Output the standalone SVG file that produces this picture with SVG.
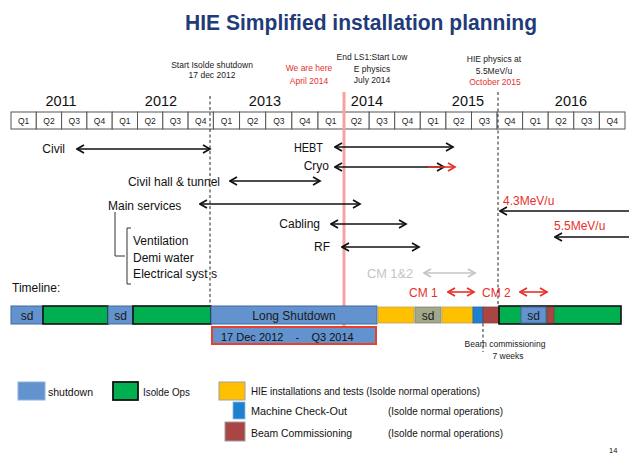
<svg xmlns="http://www.w3.org/2000/svg" width="629" height="454" viewBox="0 0 629 454">
<style>
text{font-family:"Liberation Sans",Arial,sans-serif;fill:#111}
.q{font-size:8.5px;text-anchor:middle;fill:#222}
.yr{font-size:14.5px;text-anchor:middle}
.hd{font-size:8.5px;text-anchor:middle;fill:#222}
.red{fill:#e8302a}
.lb{font-size:12px}
.end{text-anchor:end}
.cell{fill:#fff;stroke:#555;stroke-width:1}
.arr{stroke:#111;stroke-width:1.6;fill:none;marker-start:url(#ak);marker-end:url(#ak)}
.dash{stroke:#222;stroke-width:1;stroke-dasharray:3,2.5;fill:none}
.sd{fill:#6393cf;stroke:#45679a;stroke-width:1}
.ops{fill:#00b050;stroke:#111;stroke-width:1.6}
.hie{fill:#ffc000;stroke:#bfa060;stroke-width:0.8}
.sdg{fill:#a3a78c;stroke:#7f8570;stroke-width:0.8}
.mco{fill:#1f80d0;stroke:#1a66a8;stroke-width:0.8}
.bc{fill:#aa4545;stroke:#8a3a3a;stroke-width:0.8}
.bt{font-size:12px;text-anchor:middle;fill:#1a1a1a}
.lg{font-size:11.5px}
</style>
<defs>
<marker id="ak" viewBox="0 0 10 10" refX="8.5" refY="5" markerWidth="10" markerHeight="10" markerUnits="userSpaceOnUse" orient="auto-start-reverse"><path d="M1.5,1 L8.5,5 L1.5,9" fill="none" stroke="#111" stroke-width="1.7"/></marker>
<marker id="ar" viewBox="0 0 10 10" refX="8.5" refY="5" markerWidth="10" markerHeight="10" markerUnits="userSpaceOnUse" orient="auto-start-reverse"><path d="M1.5,1 L8.5,5 L1.5,9" fill="none" stroke="#e8302a" stroke-width="1.7"/></marker>
<marker id="ag" viewBox="0 0 10 10" refX="8.5" refY="5" markerWidth="10" markerHeight="10" markerUnits="userSpaceOnUse" orient="auto-start-reverse"><path d="M1.5,1 L8.5,5 L1.5,9" fill="none" stroke="#c4c4c4" stroke-width="1.7"/></marker>
</defs>
<rect width="629" height="454" fill="#fff"/>

<g id="title"><text x="185" y="29.5" font-size="21.5" font-weight="bold" style="fill:#1f3c78" textLength="352" lengthAdjust="spacingAndGlyphs">HIE Simplified installation planning</text></g>

<g id="header-labels">
<text class="hd" x="212" y="68">Start Isolde shutdown</text>
<text class="hd" x="212" y="78">17 dec 2012</text>
<text class="hd red" x="309" y="71" font-size="9.5">We are here</text>
<text class="hd red" x="309" y="84" font-size="9.5">April 2014</text>
<text class="hd" x="372" y="60">End LS1:Start Low</text>
<text class="hd" x="372" y="72">E physics</text>
<text class="hd" x="372" y="83">July 2014</text>
<text class="hd" x="494" y="62">HIE physics at</text>
<text class="hd" x="494" y="74">5.5MeV/u</text>
<text class="hd red" x="495" y="85">October 2015</text>
</g>

<g id="years">
<text class="yr" x="61" y="106">2011</text>
<text class="yr" x="161" y="106">2012</text>
<text class="yr" x="265" y="106">2013</text>
<text class="yr" x="367" y="106">2014</text>
<text class="yr" x="468" y="106">2015</text>
<text class="yr" x="571" y="106">2016</text>
</g>

<g id="quarters">
<rect class="cell" x="11" y="112" width="25.3" height="17"/><text class="q" x="23.6" y="124">Q1</text>
<rect class="cell" x="36.3" y="112" width="25.3" height="17"/><text class="q" x="49" y="124">Q2</text>
<rect class="cell" x="61.6" y="112" width="25.3" height="17"/><text class="q" x="74.2" y="124">Q3</text>
<rect class="cell" x="86.9" y="112" width="25.3" height="17"/><text class="q" x="99.5" y="124">Q4</text>
<rect class="cell" x="112.2" y="112" width="25.3" height="17"/><text class="q" x="124.8" y="124">Q1</text>
<rect class="cell" x="137.5" y="112" width="25.3" height="17"/><text class="q" x="150.1" y="124">Q2</text>
<rect class="cell" x="162.8" y="112" width="25.3" height="17"/><text class="q" x="175.4" y="124">Q3</text>
<rect class="cell" x="188.1" y="112" width="25.3" height="17"/><text class="q" x="200.7" y="124">Q4</text>
<rect class="cell" x="213.4" y="112" width="26.15" height="17"/><text class="q" x="226.5" y="124">Q1</text>
<rect class="cell" x="239.55" y="112" width="26.15" height="17"/><text class="q" x="252.6" y="124">Q2</text>
<rect class="cell" x="265.7" y="112" width="26.15" height="17"/><text class="q" x="278.8" y="124">Q3</text>
<rect class="cell" x="291.85" y="112" width="26.15" height="17"/><text class="q" x="304.9" y="124">Q4</text>
<rect class="cell" x="318" y="112" width="25.6" height="17"/><text class="q" x="330.8" y="124">Q1</text>
<rect class="cell" x="343.6" y="112" width="25.6" height="17"/><text class="q" x="356.4" y="124">Q2</text>
<rect class="cell" x="369.2" y="112" width="25.5" height="17"/><text class="q" x="382" y="124">Q3</text>
<rect class="cell" x="394.7" y="112" width="25.6" height="17"/><text class="q" x="407.5" y="124">Q4</text>
<rect class="cell" x="420.3" y="112" width="25.6" height="17"/><text class="q" x="433.1" y="124">Q1</text>
<rect class="cell" x="445.9" y="112" width="25.6" height="17"/><text class="q" x="458.7" y="124">Q2</text>
<rect class="cell" x="471.5" y="112" width="25.6" height="17"/><text class="q" x="484.3" y="124">Q3</text>
<rect class="cell" x="497.1" y="112" width="25.5" height="17"/><text class="q" x="509.9" y="124">Q4</text>
<rect class="cell" x="522.6" y="112" width="25.6" height="17"/><text class="q" x="535.4" y="124">Q1</text>
<rect class="cell" x="548.2" y="112" width="25.6" height="17"/><text class="q" x="561" y="124">Q2</text>
<rect class="cell" x="573.8" y="112" width="25.6" height="17"/><text class="q" x="586.6" y="124">Q3</text>
<rect class="cell" x="599.4" y="112" width="25.6" height="17"/><text class="q" x="612.2" y="124">Q4</text>
</g>

<g id="task-labels">
<text class="lb end" x="65" y="153">Civil</text>
<text class="lb end" x="323" y="152" textLength="29" lengthAdjust="spacingAndGlyphs">HEBT</text>
<text class="lb end" x="329" y="170">Cryo</text>
<text class="lb end" x="220" y="186">Civil hall &amp; tunnel</text>
<text class="lb" x="108" y="210">Main services</text>
<text class="lb end" x="320" y="228">Cabling</text>
<text class="lb end" x="330" y="251">RF</text>
<text class="lb" x="367" y="278" style="fill:#c4c4c4" textLength="46" lengthAdjust="spacingAndGlyphs">CM 1&amp;2</text>
<text class="lb red" x="503" y="205" font-size="13">4.3MeV/u</text>
<text class="lb red" x="554" y="230" font-size="13">5.5MeV/u</text>
<text class="lb" x="133" y="245">Ventilation</text>
<text class="lb" x="133" y="262">Demi water</text>
<text class="lb" x="133" y="278" textLength="84" lengthAdjust="spacingAndGlyphs">Electrical syst s</text>
<text class="lb" x="12" y="292">Timeline:</text>
<text class="lb red" x="409" y="297">CM 1</text>
<text class="lb red" x="482" y="297">CM 2</text>
</g>

<g id="connectors">
<line x1="344" y1="92" x2="344" y2="327" stroke="#f4a3a3" stroke-width="3"/>
<line class="dash" x1="210" y1="96" x2="210" y2="307"/>
<line class="dash" x1="498" y1="92" x2="498" y2="305"/>
<line class="dash" x1="483" y1="318" x2="483" y2="352"/>
<line class="arr" x1="77" y1="149" x2="210" y2="149"/>
<line class="arr" x1="335" y1="147" x2="453" y2="147"/>
<line class="arr" x1="335" y1="167" x2="444" y2="167"/>
<line x1="428" y1="167" x2="455" y2="167" stroke="#e8302a" stroke-width="1.6" marker-end="url(#ar)"/>
<line class="arr" x1="230" y1="181" x2="320" y2="181"/>
<line class="arr" x1="200" y1="204" x2="360" y2="204"/>
<line class="arr" x1="331" y1="224" x2="406" y2="224"/>
<line class="arr" x1="342" y1="247" x2="419" y2="247"/>
<line x1="424" y1="273" x2="475" y2="273" stroke="#c4c4c4" stroke-width="1.6" marker-start="url(#ag)" marker-end="url(#ag)"/>
<line x1="500" y1="211" x2="629" y2="211" stroke="#111" stroke-width="1.6" marker-start="url(#ak)"/>
<line x1="555" y1="237" x2="629" y2="237" stroke="#111" stroke-width="1.6" marker-start="url(#ak)"/>
<line x1="448" y1="292" x2="474" y2="292" stroke="#e8302a" stroke-width="1.6" marker-start="url(#ar)" marker-end="url(#ar)"/>
<line x1="520" y1="292" x2="547" y2="292" stroke="#e8302a" stroke-width="1.6" marker-start="url(#ar)" marker-end="url(#ar)"/>
<polyline points="115,212 115,256 125,256" fill="none" stroke="#333" stroke-width="1"/>
<polyline points="131,228 127,228 127,284 131,284" fill="none" stroke="#333" stroke-width="1"/>
</g>

<g id="timeline-bar">
<rect class="sd" x="11" y="306" width="32" height="18"/><text class="bt" x="27" y="320">sd</text>
<rect class="ops" x="43" y="306" width="65" height="18"/>
<rect class="sd" x="108" y="306" width="25" height="18"/><text class="bt" x="120.5" y="320">sd</text>
<rect class="ops" x="133" y="306" width="78" height="18"/>
<rect class="sd" x="211" y="306" width="166" height="18"/><text class="bt" x="294" y="320" font-size="11">Long Shutdown</text>
<rect class="hie" x="378" y="307" width="36" height="16"/>
<rect class="sdg" x="415" y="307" width="26" height="16"/><text class="bt" x="428" y="320">sd</text>
<rect class="hie" x="442" y="307" width="31" height="16"/>
<rect class="mco" x="473" y="307" width="10" height="16"/>
<rect class="bc" x="483" y="307" width="16" height="16"/>
<rect class="ops" x="499" y="306" width="122" height="18"/>
<rect class="sd" x="521" y="307" width="25" height="16"/><text class="bt" x="533.5" y="320">sd</text>
<rect class="bc" x="547" y="307" width="7" height="16"/>
</g>

<g id="date-box">
<rect x="212" y="327" width="164" height="17" fill="#6393cf" stroke="#e8402a" stroke-width="2"/>
<text x="221" y="341" font-size="11" xml:space="preserve">17 Dec 2012    -    Q3 2014</text>
</g>

<g id="beam-note">
<text class="hd" x="505" y="347">Beam commissioning</text>
<text class="hd" x="508" y="359">7 weeks</text>
</g>

<g id="legend">
<rect x="18" y="382" width="27" height="18" fill="#6393cf" stroke="#8fb0dc" stroke-width="1"/>
<text class="lg" x="48" y="396" textLength="45" lengthAdjust="spacingAndGlyphs">shutdown</text>
<rect x="113" y="382" width="25" height="18" fill="#00b050" stroke="#111" stroke-width="1.8"/>
<text class="lg" x="143" y="396" textLength="47" lengthAdjust="spacingAndGlyphs">Isolde Ops</text>
<rect x="219" y="382" width="26" height="18" fill="#ffc000" stroke="#a0a0a0" stroke-width="1"/>
<text class="lg" x="251" y="395" textLength="229" lengthAdjust="spacingAndGlyphs">HIE installations and tests (Isolde normal operations)</text>
<rect x="233" y="402" width="12" height="17" fill="#1f80d0" stroke="#8fb8e0" stroke-width="0.8"/>
<text class="lg" x="251" y="415" textLength="96" lengthAdjust="spacingAndGlyphs">Machine Check-Out</text>
<text class="lg" x="388" y="415" textLength="115" lengthAdjust="spacingAndGlyphs">(Isolde normal operations)</text>
<rect x="225" y="422" width="20" height="19" fill="#aa4545" stroke="#a0a0a0" stroke-width="1"/>
<text class="lg" x="251" y="437" textLength="101" lengthAdjust="spacingAndGlyphs">Beam Commissioning</text>
<text class="lg" x="388" y="437" textLength="115" lengthAdjust="spacingAndGlyphs">(Isolde normal operations)</text>
</g>

<g id="page-number"><text x="609" y="453" font-size="7.5">14</text></g>
</svg>
